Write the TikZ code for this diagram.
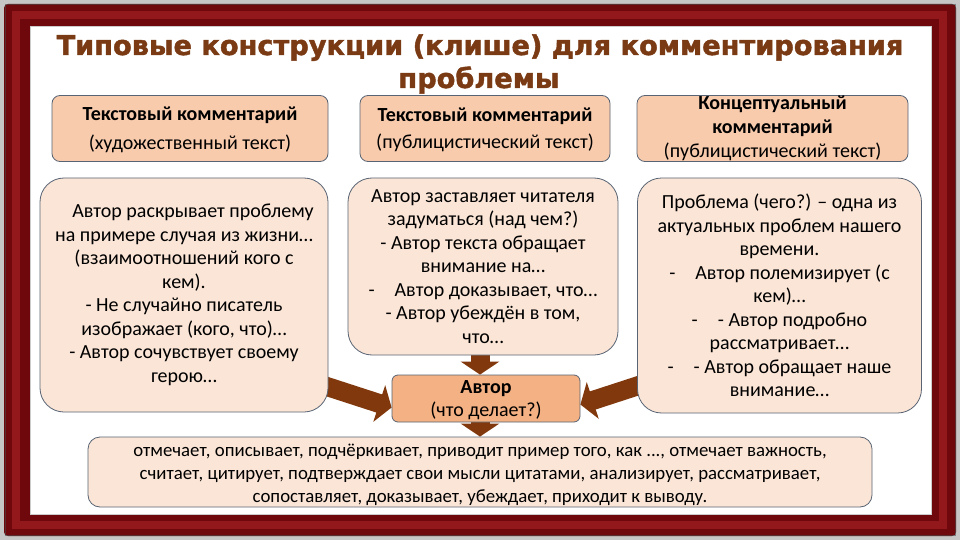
\documentclass[tikz,border=0pt]{standalone}
\usepackage{fontspec}
\setmainfont{Carlito}
\newfontfamily\titlefont{DejaVu Sans}[BoldFeatures={FakeBold=1.6}]
\usetikzlibrary{arrows.meta,calc}
\definecolor{peach}{HTML}{F8CBAD}
\definecolor{lightpeach}{HTML}{FBE5D6}
\definecolor{autorfill}{HTML}{F4B183}
\definecolor{boxline}{RGB}{88,100,116}
\definecolor{arrowbrown}{RGB}{128,56,12}
\definecolor{titlebrown}{RGB}{122,58,20}
\definecolor{framered}{RGB}{110,8,12}
\definecolor{framehi}{RGB}{160,30,34}
\pgfdeclarelayer{frame}
\pgfdeclarelayer{bg}
\pgfsetlayers{frame,bg,main}
\tikzset{
  hdrbox/.style={draw=boxline, fill=peach, line width=0.8pt, rounded corners=8pt,
    align=center, inner sep=0pt, font=\fontsize{20}{24}\selectfont},
  bodybox/.style={draw=boxline, fill=lightpeach, line width=0.8pt, rounded corners=24pt,
    align=center, inner sep=0pt, font=\fontsize{20}{23.5}\selectfont},
  autorbox/.style={draw=boxline, fill=autorfill, line width=0.8pt, rounded corners=6pt,
    align=center, inner sep=0pt, font=\fontsize{20}{23}\selectfont},
  bottombox/.style={draw=boxline, fill=lightpeach, line width=0.8pt, rounded corners=12pt,
    inner sep=0pt},
  bottomtext/.style={align=center, inner sep=0pt, font=\fontsize{18.8}{23}\selectfont},
  blockarrow/.style={draw=arrowbrown, line width=19pt,
    -{Triangle[width=38pt,length=13pt,fill=arrowbrown]}},
  titletext/.style={anchor=base, text=titlebrown, inner sep=0pt,
    font=\titlefont\bfseries\fontsize{27.2}{30}\selectfont}
}
\begin{document}
\begin{tikzpicture}[x=1pt,y=-1pt]
\useasboundingbox (0,0) rectangle (960,540);
% frame
\begin{pgfonlayer}{frame}
\fill[gray!45] (0,0) rectangle (960,540);
\fill[framered, rounded corners=4pt] (4,4) rectangle (956,536);
\draw[framehi, line width=8pt, opacity=0.75] (16,15) rectangle (943,525);
\draw[black!70, line width=1pt, opacity=0.6] (5,5) rectangle (955,535);
\fill[white] (30,26) rectangle (931,514);
\draw[gray!40, line width=0.8pt] (30,26) rectangle (931,514);
\end{pgfonlayer}
% title
\node[titletext] (t1) at (480,55) {Типовые конструкции (клише) для комментирования};
\node[titletext] (t2) at (479,88) {проблемы};
% header boxes
\node[hdrbox, minimum width=276pt, minimum height=66pt] (h1) at (190,128.5)
  {\rule{0pt}{17pt}\textbf{Текстовый комментарий}\\[5pt](художественный текст)};
\node[hdrbox, minimum width=250pt, minimum height=66pt] (h2) at (485,128.5)
  {\rule{0pt}{16pt}\textbf{Текстовый комментарий}\\[3pt](публицистический текст)};
\node[hdrbox, minimum width=271pt, minimum height=66pt] (h3) at (772.5,128.5)
  {\textbf{Концептуальный}\\\textbf{комментарий}\\(публицистический текст)};
% body boxes
\node[bodybox, minimum width=288pt, minimum height=234pt] (b1) at (184,295)
  {\hspace*{0.9em}Автор раскрывает проблему\\на примере случая из жизни…\\(взаимоотношений кого с\\кем).\\- Не случайно писатель\\изображает (кого, что)…\\- Автор сочувствует своему\\герою…};
\node[bodybox, minimum width=270pt, minimum height=177pt] (b2) at (483,266.5)
  {Автор заставляет читателя\\задуматься (над чем?)\\- Автор текста обращает\\внимание на…\\-\quad Автор доказывает, что…\\- Автор убеждён в том,\\что…};
\node[bodybox, minimum width=284pt, minimum height=235pt] (b3) at (779.5,295.5)
  {Проблема (чего?) – одна из\\актуальных проблем нашего\\времени.\\-\quad Автор полемизирует (с\\кем)…\\-\quad - Автор подробно\\рассматривает…\\-\quad - Автор обращает наше\\внимание…};
% author box
\node[autorbox, minimum width=188pt, minimum height=47pt] (autor) at (486,398.5)
  {\rule{0pt}{17pt}\textbf{Автор}\\(что делает?)};
% bottom box
\node[bottombox, minimum width=784pt, minimum height=70pt] (bottom) at (480,472) {};
\node[bottomtext] (btext) at (480,475)
  {отмечает, описывает, подчёркивает, приводит пример того, как ..., отмечает важность,\\считает, цитирует, подтверждает свои мысли цитатами, анализирует, рассматривает,\\сопоставляет, доказывает, убеждает, приходит к выводу.};
% arrows
\begin{pgfonlayer}{bg}
\draw[blockarrow] ($(b1.south east)+(-8,-28)$) -- ($(autor.west)+(0,9)$);
\draw[blockarrow] ($(b3.south west)+(8,-30)$) -- ($(autor.east)+(0,6)$);
\draw[blockarrow] ($(b2.south)+(-3,0)$) -- ($(b2.south |- autor.north)+(-3,0)$);
\draw[blockarrow] ($(autor.south -| b2.south)+(-3,0)$) -- ($(b2.south |- bottom.north)+(-3,0)$);
\end{pgfonlayer}
\end{tikzpicture}
\end{document}
